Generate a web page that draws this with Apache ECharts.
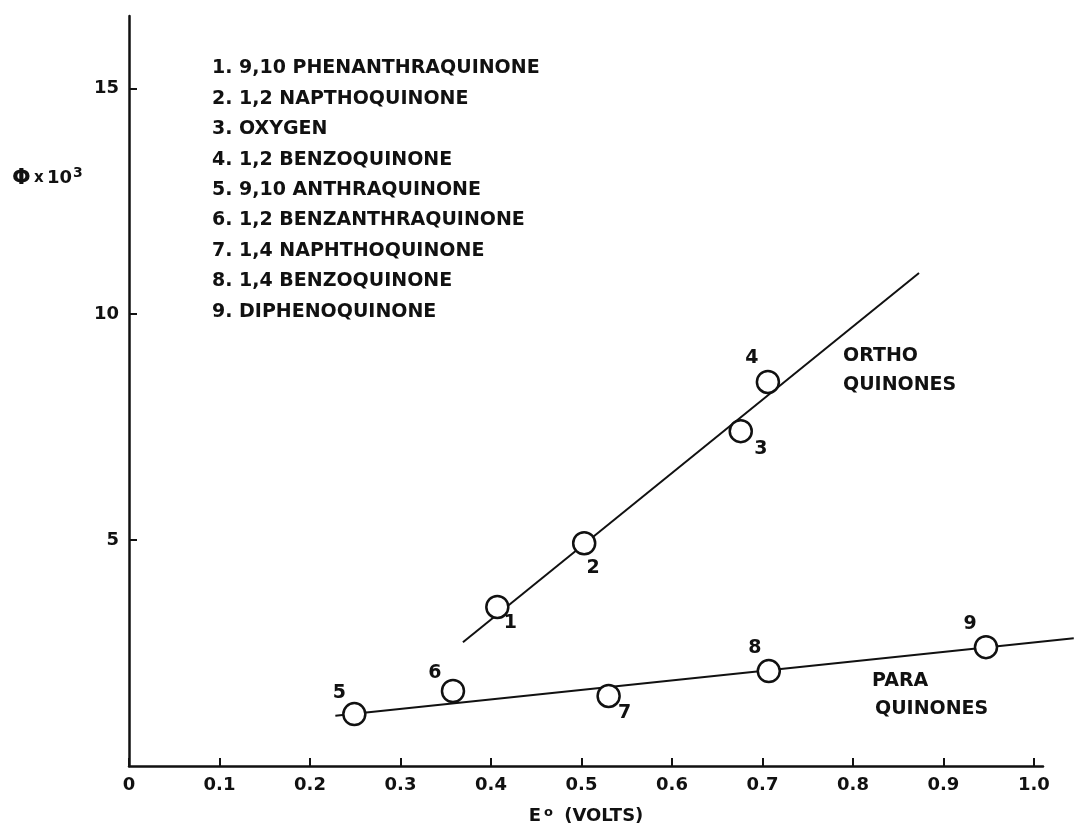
<!DOCTYPE html>
<html>
<head>
<meta charset="utf-8">
<script src="https://cdn.jsdelivr.net/npm/echarts@6/dist/echarts.min.js"></script>
<style>
html,body{margin:0;padding:0;background:#fff;}
#chart{width:1074px;height:835px;}
</style>
</head>
<body>
<div id="chart"></div>
<script>
// ---- data ----
const orthoIds = ['1', '2', '3', '4'];
const orthoE   = [0.407, 0.503, 0.676, 0.706];
const orthoPhi = [3.52, 4.93, 7.41, 8.50];

const paraIds  = ['5', '6', '7', '8', '9'];
const paraE    = [0.249, 0.358, 0.530, 0.707, 0.947];
const paraPhi  = [1.15, 1.66, 1.55, 2.10, 2.63];

const orthoFitE   = [0.369, 0.873];
const orthoFitPhi = [2.74, 10.91];
const paraFitE    = [0.228, 1.044];
const paraFitPhi  = [1.11, 2.83];

const xTicks = [0, 0.1, 0.2, 0.3, 0.4, 0.5, 0.6, 0.7, 0.8, 0.9, 1.0];
const xTickLabels = ['0', '0.1', '0.2', '0.3', '0.4', '0.5', '0.6', '0.7', '0.8', '0.9', '1.0'];
const yTicks = [5, 10, 15];

const compoundList = [
  '1. 9,10 PHENANTHRAQUINONE',
  '2. 1,2 NAPTHOQUINONE',
  '3. OXYGEN',
  '4. 1,2 BENZOQUINONE',
  '5. 9,10 ANTHRAQUINONE',
  '6. 1,2 BENZANTHRAQUINONE',
  '7. 1,4 NAPHTHOQUINONE',
  '8. 1,4 BENZOQUINONE',
  '9. DIPHENOQUINONE'
];

// ---- styling (label offsets from circle centers) ----
const labelOffsets = {
  '1': [13, 16], '2': [9, 25], '3': [20, 18], '4': [-16, -24],
  '5': [-15, -21], '6': [-18, -18], '7': [16, 17], '8': [-14, -23], '9': [-16, -23]
};

const FONT = 'DejaVu Sans';
const INK = '#111';
const FS = 19;
const TXT = 'bold ' + FS + 'px "' + FONT + '"';

function pts(ids, xs, ys) {
  return ids.map((id, i) => ({
    name: id,
    value: [xs[i], ys[i]],
    label: { offset: labelOffsets[id] }
  }));
}
function line(xs, ys) { return xs.map((x, i) => [x, ys[i]]); }

const chart = echarts.init(document.getElementById('chart'), null, { renderer: 'canvas' });

const X_MAX = 1.01;
const GRID = { left: 129, right: 31, top: 16, bottom: 69 };
const plotW = 1074 - GRID.left - GRID.right;
// second (hidden) grid reaching the right edge, same scale, so the para line can run past the axis end
const X_MAX_WIDE = X_MAX * (1074 - GRID.left) / plotW;

const scatterStyle = {
  type: 'scatter',
  symbol: 'circle',
  symbolSize: 22,
  z: 5,
  itemStyle: { color: '#fff', borderColor: INK, borderWidth: 2.5, opacity: 1 },
  label: {
    show: true, position: 'inside', formatter: '{b}',
    color: INK, fontFamily: FONT, fontSize: FS, fontWeight: 'bold'
  },
  emphasis: { disabled: true }
};

const legendGraphics = compoundList.map((t, i) => ({
  type: 'text',
  left: 212,
  top: 59 + i * 30.4,
  style: { text: t, fill: INK, font: TXT }
}));

const axisLabelStyle = { color: INK, fontFamily: FONT, fontSize: 18, fontWeight: 'bold' };

chart.setOption({
  animation: false,
  backgroundColor: '#fff',
  grid: [
    Object.assign({ containLabel: false }, GRID),
    { left: GRID.left, right: 0, top: GRID.top, bottom: GRID.bottom, containLabel: false }
  ],
  xAxis: [{
    type: 'value', min: 0, max: X_MAX, gridIndex: 0,
    name: '{e|E}{o|o} {v|(VOLTS)}',
    nameLocation: 'middle', nameGap: 40,
    nameTextStyle: {
      rich: {
        e: { fontFamily: FONT, fontSize: 18, fontWeight: 'bold', color: INK },
        o: { fontFamily: FONT, fontSize: 13, fontWeight: 'bold', color: INK, verticalAlign: 'top', padding: [0, 8, 8, 3] },
        v: { fontFamily: FONT, fontSize: 18, fontWeight: 'bold', color: INK }
      }
    },
    splitLine: { show: false },
    axisLine: { onZero: false, lineStyle: { color: INK, width: 2.5 } },
    axisTick: { inside: true, length: 8, customValues: xTicks, lineStyle: { color: INK, width: 2 } },
    axisLabel: Object.assign({
      customValues: xTicks, margin: 10,
      formatter: v => xTickLabels[xTicks.findIndex(t => Math.abs(t - v) < 1e-6)] || ''
    }, axisLabelStyle)
  }, {
    type: 'value', min: 0, max: X_MAX_WIDE, gridIndex: 1, show: false
  }],
  yAxis: [{
    type: 'value', min: 0, max: 16.6, gridIndex: 0,
    splitLine: { show: false },
    axisLine: { onZero: false, lineStyle: { color: INK, width: 2.5 } },
    axisTick: { inside: true, length: 8, customValues: yTicks, lineStyle: { color: INK, width: 2 } },
    axisLabel: Object.assign({ customValues: yTicks, margin: 10 }, axisLabelStyle)
  }, {
    type: 'value', min: 0, max: 16.6, gridIndex: 1, show: false
  }],
  series: [
    {
      type: 'line', data: line(orthoFitE, orthoFitPhi), symbol: 'none',
      lineStyle: { color: INK, width: 2 }, z: 2, emphasis: { disabled: true }
    },
    {
      type: 'line', xAxisIndex: 1, yAxisIndex: 1,
      data: line(paraFitE, paraFitPhi), symbol: 'none', clip: false,
      lineStyle: { color: INK, width: 2 }, z: 2, emphasis: { disabled: true }
    },
    Object.assign({ name: 'ortho', data: pts(orthoIds, orthoE, orthoPhi) }, scatterStyle),
    Object.assign({ name: 'para', data: pts(paraIds, paraE, paraPhi) }, scatterStyle)
  ],
  graphic: legendGraphics.concat([
    { type: 'text', left: 843, top: 347, style: { text: 'ORTHO', fill: INK, font: TXT } },
    { type: 'text', left: 843, top: 376, style: { text: 'QUINONES', fill: INK, font: TXT } },
    { type: 'text', left: 872, top: 672, style: { text: 'PARA', fill: INK, font: TXT } },
    { type: 'text', left: 875, top: 700, style: { text: 'QUINONES', fill: INK, font: TXT } },
    {
      type: 'text', left: 12, top: 166,
      style: {
        text: '{p|Φ} {x|x} {n|10}{s|3}',
        rich: {
          p: { fontFamily: FONT, fontSize: 22, fill: INK, fontWeight: 'bold' },
          x: { fontFamily: FONT, fontSize: 15, fill: INK, fontWeight: 'bold' },
          n: { fontFamily: FONT, fontSize: 18, fill: INK, fontWeight: 'bold' },
          s: { fontFamily: FONT, fontSize: 14, fill: INK, fontWeight: 'bold', verticalAlign: 'top', padding: [0, 0, 10, 1] }
        }
      }
    }
  ])
});
</script>
</body>
</html>
